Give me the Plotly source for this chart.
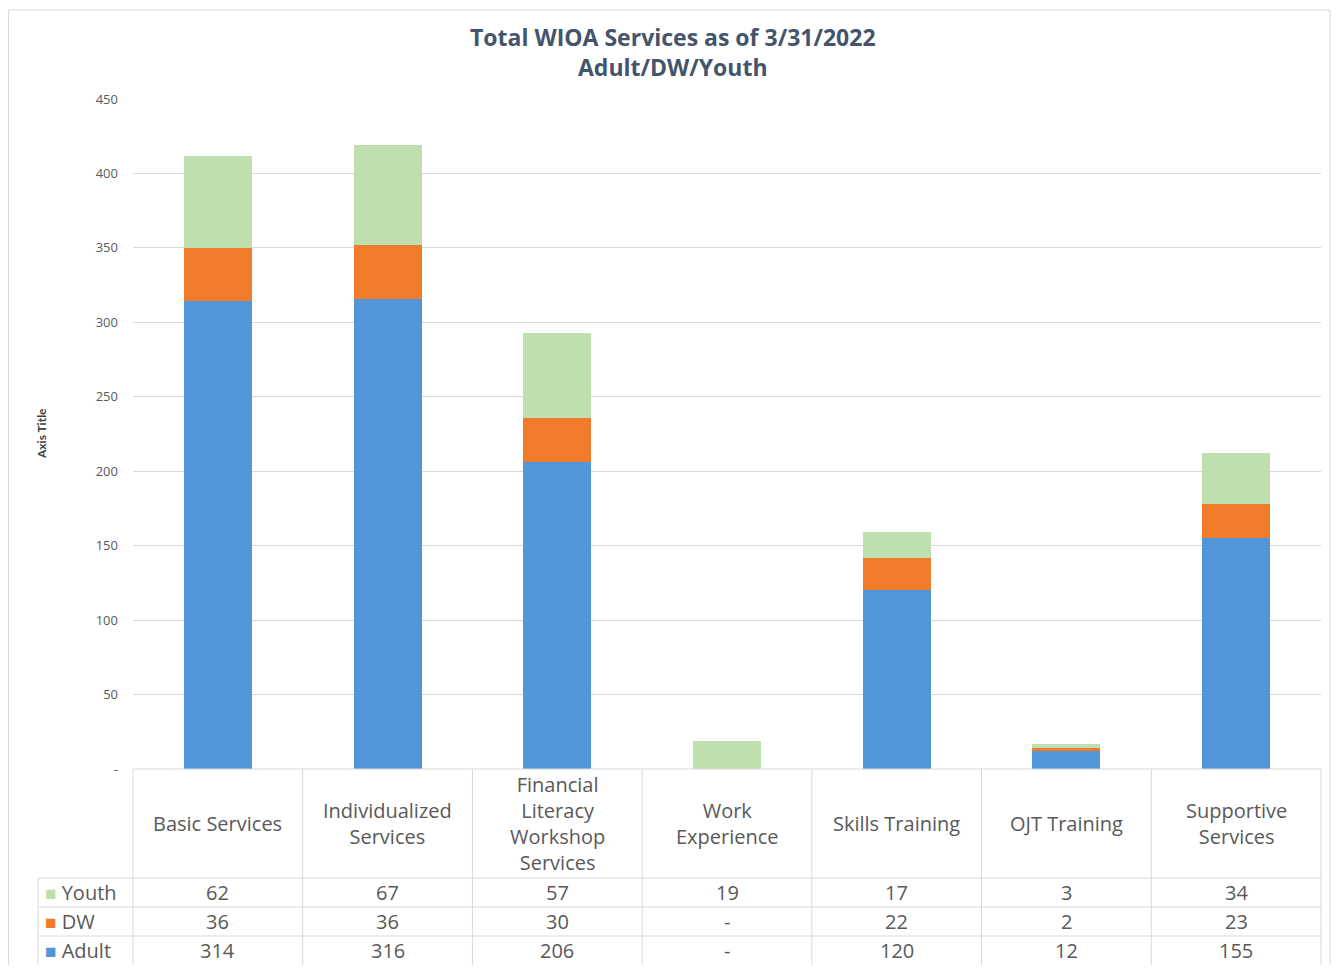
import plotly.graph_objects as go

# ── data ─────────────────────────────────────────────────────────────────────
categories = ["Basic Services", "Individualized Services",
              "Financial Literacy Workshop Services", "Work Experience",
              "Skills Training", "OJT Training", "Supportive Services"]
cat_labels = ["Basic Services", "Individualized<br>Services",
              "Financial<br>Literacy<br>Workshop<br>Services", "Work<br>Experience",
              "Skills Training", "OJT Training", "Supportive<br>Services"]
youth = [62, 67, 57, 19, 17, 3, 34]
dw = [36, 36, 30, 0, 22, 2, 23]
adult = [314, 316, 206, 0, 120, 12, 155]
y_ticks = [0, 50, 100, 150, 200, 250, 300, 350, 400, 450]

# page is 1340x973 with the browser's 8px body margin -> figure 1324x957
OFF = 8
W, H = 1340 - 2 * OFF, 973 - 2 * OFF
C_ADULT, C_DW, C_YOUTH = '#5096D8', '#EF7B2B', '#C0DFAF'
GRID = '#D9D9D9'
TXT = '#595959'


def px_x(p):
    # page pixel -> paper x
    return (p - OFF) / W


def px_y(p):
    # page pixel -> paper y
    return 1 - (p - OFF) / H


def fmt(v):
    return '-' if v == 0 else str(v)


# plot area in page pixels
X0, X1 = 133, 1321
Y_TOP, Y_BOT = 99, 769

fig = go.Figure()
for name, vals, col in [('Adult', adult, C_ADULT), ('DW', dw, C_DW),
                        ('Youth', youth, C_YOUTH)]:
    fig.add_trace(go.Bar(
        x=categories, y=vals, name=name, marker_color=col,
        marker_line_width=0,
        hovertemplate='%{x}<br>' + name + ': %{y}<extra></extra>',
    ))

fig.update_layout(
    width=W, height=H, barmode='stack', bargap=0.6, showlegend=False,
    margin=dict(l=0, r=0, t=0, b=0),
    paper_bgcolor='white', plot_bgcolor='white',
    font=dict(family='Open Sans', color=TXT),
)
fig.update_xaxes(domain=[px_x(X0), px_x(X1)], showticklabels=False,
                 showgrid=False, showline=False, zeroline=False, automargin=False)
fig.update_yaxes(domain=[px_y(Y_BOT), px_y(Y_TOP)], range=[0, 450],
                 tickvals=y_ticks, ticktext=[fmt(v) for v in y_ticks],
                 tickfont=dict(size=13, color=TXT, family='Open Sans'),
                 ticklabelstandoff=14, automargin=False,
                 gridcolor=GRID, gridwidth=1, zeroline=False, showline=False)

# title + axis title
fig.add_annotation(text='<b>Total WIOA Services as of 3/31/2022<br>Adult/DW/Youth</b>',
                   x=px_x(673), y=px_y(52), xref='paper', yref='paper',
                   xanchor='center', yanchor='middle',
                   showarrow=False, font=dict(size=23, color='#44546A'),
                   align='center')
fig.add_annotation(text='<b>Axis Title</b>', x=px_x(41), y=px_y(434),
                   xref='paper', yref='paper', xanchor='center', yanchor='middle',
                   showarrow=False, textangle=-90,
                   font=dict(size=12, color='#404040', family='Lato'))

# outer chart border
fig.add_shape(type='rect', xref='paper', yref='paper',
              x0=px_x(8.5), x1=px_x(1330), y0=px_y(990), y1=px_y(10),
              line=dict(color=GRID, width=1))

# ── data table ───────────────────────────────────────────────────────────────
row_tops = [878, 907, 936]
row_h = 29
col_w = (X1 - X0) / len(categories)
line = dict(color=GRID, width=1)
for i in range(len(categories) + 1):
    xp = X0 + i * col_w
    fig.add_shape(type='line', xref='paper', yref='paper', x0=px_x(xp), x1=px_x(xp),
                  y0=px_y(Y_BOT), y1=px_y(990), line=line)
fig.add_shape(type='line', xref='paper', yref='paper', x0=px_x(38), x1=px_x(38),
              y0=px_y(row_tops[0]), y1=px_y(990), line=line)
fig.add_shape(type='line', xref='paper', yref='paper', x0=px_x(X0), x1=px_x(X1),
              y0=px_y(Y_BOT), y1=px_y(Y_BOT), line=line)
for yt in row_tops:
    fig.add_shape(type='line', xref='paper', yref='paper', x0=px_x(38), x1=px_x(X1),
                  y0=px_y(yt), y1=px_y(yt), line=line)

for i, lab in enumerate(cat_labels):
    fig.add_annotation(text=lab, x=px_x(X0 + (i + 0.5) * col_w), y=px_y(823),
                       xref='paper', yref='paper', xanchor='center', yanchor='middle',
                       showarrow=False, font=dict(size=20, color=TXT), align='center')

for r, (name, vals, col) in enumerate([('Youth', youth, C_YOUTH), ('DW', dw, C_DW),
                                       ('Adult', adult, C_ADULT)]):
    yc = px_y(row_tops[r] + row_h / 2)
    fig.add_annotation(text=f"<span style='color:{col};font-size:19px'>■</span> {name}",
                       x=px_x(43), y=yc, xref='paper', yref='paper',
                       xanchor='left', yanchor='middle',
                       showarrow=False, font=dict(size=20, color=TXT))
    for i, v in enumerate(vals):
        fig.add_annotation(text=fmt(v), x=px_x(X0 + (i + 0.5) * col_w), y=yc,
                           xref='paper', yref='paper', xanchor='center', yanchor='middle',
                           showarrow=False, font=dict(size=20, color=TXT))

fig.write_html("out.html")
